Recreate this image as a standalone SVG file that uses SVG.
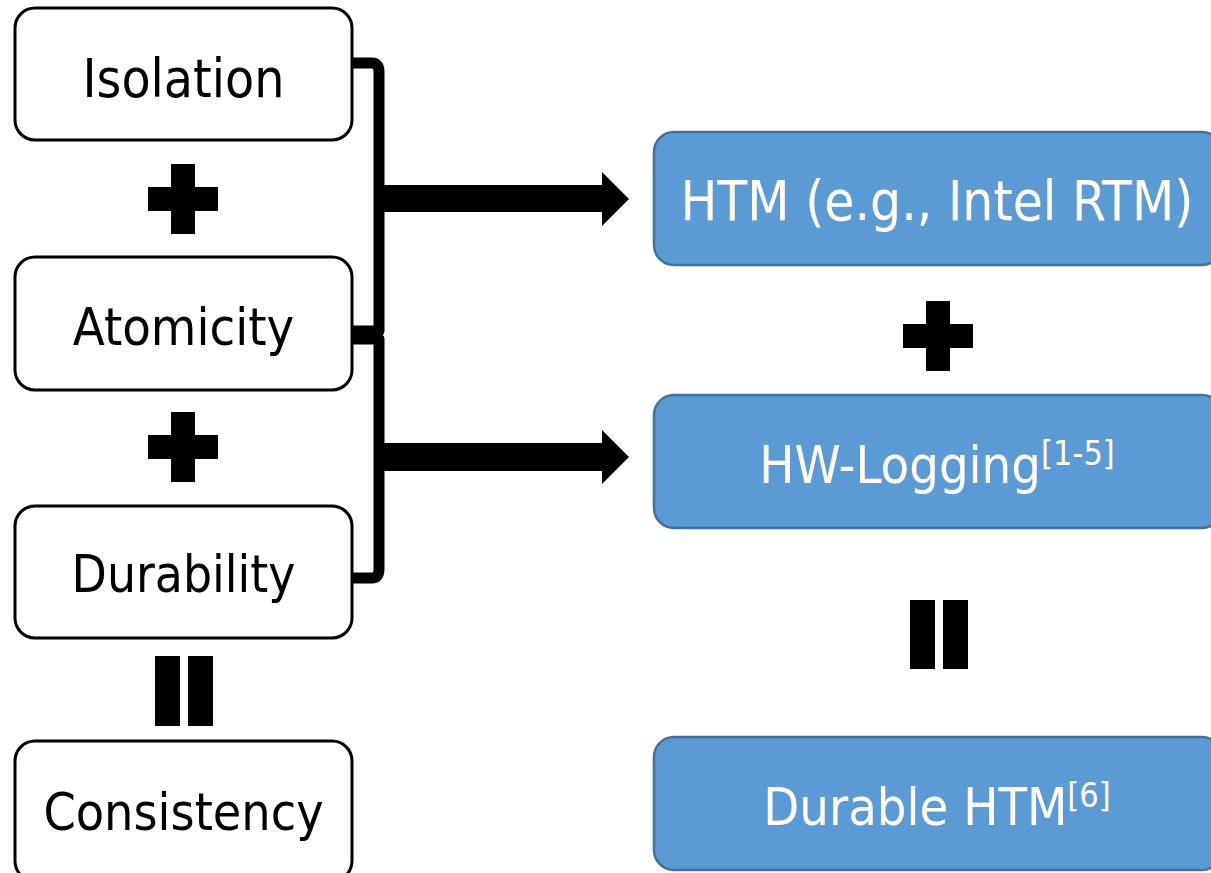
<svg xmlns="http://www.w3.org/2000/svg" width="1211" height="873" viewBox="0 0 1211 873">
<style>
.lbox{fill:#fff;stroke:#000;stroke-width:3}
.rbox{fill:#5B9BD5;stroke:#41719C;stroke-width:2.5}
.lt{font-family:"DejaVu Sans Condensed","DejaVu Sans",sans-serif;font-stretch:condensed;font-size:53px;fill:#000;text-anchor:middle}
.rt{font-family:"DejaVu Sans Condensed","DejaVu Sans",sans-serif;font-stretch:condensed;font-size:52px;fill:#fff;text-anchor:middle}
.sup{font-size:34px}
.brace{fill:none;stroke:#000;stroke-width:11;stroke-linejoin:round}
.sym{fill:#000}
</style>
<rect width="1211" height="873" fill="#fff"/>
<g id="isolation"><rect class="lbox" x="15" y="8" width="337" height="132" rx="20"/><text class="lt" x="183.5" y="97">Isolation</text></g>
<g id="atomicity"><rect class="lbox" x="15" y="257" width="337" height="133" rx="20"/><text class="lt" x="183.5" y="345" style="font-size:52px">Atomicity</text></g>
<g id="durability"><rect class="lbox" x="15" y="506" width="337" height="132" rx="20"/><text class="lt" x="183.5" y="592" style="font-size:51px">Durability</text></g>
<g id="consistency"><rect class="lbox" x="15" y="741" width="337" height="140" rx="20"/><text class="lt" x="183.5" y="830" style="font-size:51.5px">Consistency</text></g>
<g id="htm"><rect class="rbox" x="654" y="132" width="568" height="133" rx="20"/><text class="rt" x="937" y="220" style="font-size:54.5px">HTM (e.g., Intel RTM)</text></g>
<g id="hwlogging"><rect class="rbox" x="654" y="395" width="568" height="133" rx="20"/><text class="rt" x="937" y="483">HW-Logging<tspan class="sup" dy="-18">[1-5]</tspan></text></g>
<g id="durablehtm"><rect class="rbox" x="654" y="737" width="568" height="133" rx="20"/><text class="rt" x="937" y="825">Durable HTM<tspan class="sup" dy="-18">[6]</tspan></text></g>
<g id="operators">
<path class="sym" d="M171,164h24v23h23v24h-23v23h-24v-23h-23v-24h23z"/>
<path class="sym" d="M171,412h24v23h23v24h-23v23h-24v-23h-23v-24h23z"/>
<path class="sym" d="M926,301h24v23h23v24h-23v23h-24v-23h-23v-24h23z"/>
<rect class="sym" x="155" y="656" width="25" height="70"/>
<rect class="sym" x="188" y="656" width="25" height="70"/>
<rect class="sym" x="910" y="600" width="25" height="69"/>
<rect class="sym" x="943" y="600" width="25" height="69"/>
</g>
<g id="connectors">
<path class="brace" d="M352,63 H372 Q379,63 379,72 V331 H352"/>
<path class="brace" d="M352,339 H379 V569 Q379,578 372,578 H352"/>
<path class="sym" d="M380,185 H602 V172 L629,199 L602,226 V212 H380 Z"/>
<path class="sym" d="M380,443 H602 V430 L629,457 L602,484 V471 H380 Z"/>
</g>
</svg>
